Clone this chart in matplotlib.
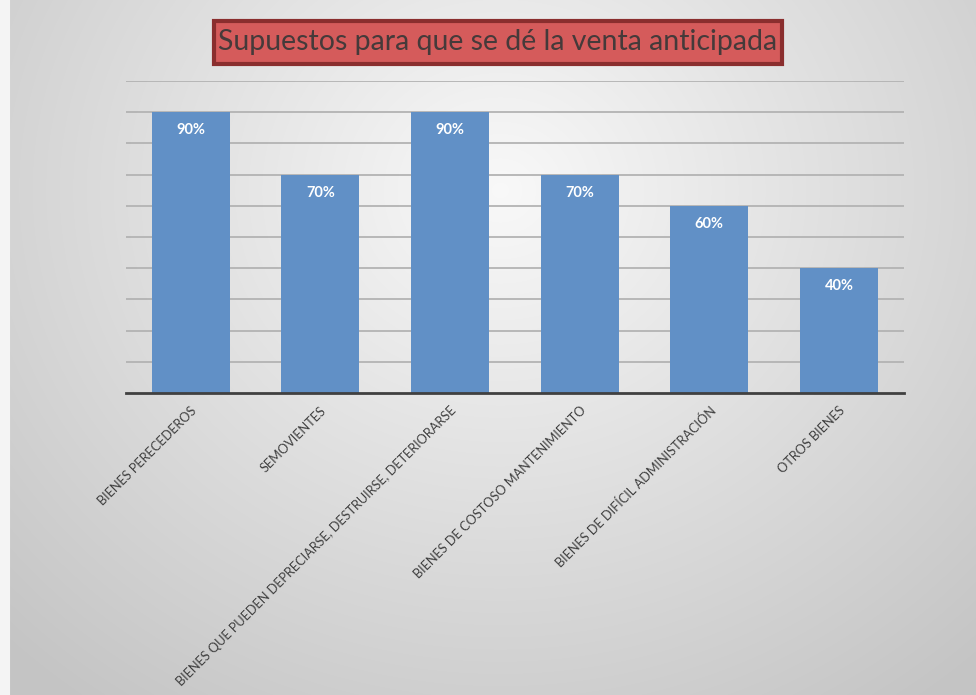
import numpy as np
import matplotlib.pyplot as plt
from matplotlib.patches import FancyBboxPatch

categories = ['BIENES PERECEDEROS', 'SEMOVIENTES',
              'BIENES QUE PUEDEN DEPRECIARSE, DESTRUIRSE, DETERIORARSE',
              'BIENES DE COSTOSO MANTENIMIENTO',
              'BIENES DE DIFÍCIL ADMINISTRACIÓN', 'OTROS BIENES']
values = [0.90, 0.70, 0.90, 0.70, 0.60, 0.40]
value_labels = ['90%', '70%', '90%', '70%', '60%', '40%']
title = 'Supuestos para que se dé la venta anticipada'

plt.rcParams['font.family'] = ['Lato', 'DejaVu Sans']

fig = plt.figure(figsize=(9.76, 6.95), dpi=100)

# radial gradient background
bg = fig.add_axes([0, 0, 1, 1], zorder=-10)
yy, xx = np.mgrid[0:695, 0:976]
r = np.sqrt(((xx - 500) / 620.0) ** 2 + ((yy - 190) / 560.0) ** 2)
shade = np.clip(0.975 - 0.18 * r, 0.77, 0.975)
bg.imshow(np.dstack([shade] * 3), aspect='auto', extent=[0, 1, 0, 1])
bg.axvline(0.004, color='#f4f4f4', lw=8)
bg.set_xlim(0, 1)
bg.set_ylim(0, 1)
bg.axis('off')

ax = fig.add_axes([0.129, 0.4345, 0.797, 0.449])
ax.patch.set_alpha(0)
x = np.arange(len(categories))
ax.bar(x, values, width=0.6, color='#6190c6', zorder=3)
for xi, v, lab in zip(x, values, value_labels):
    ax.text(xi, v - 0.058, lab, ha='center', va='center', color='white',
            fontsize=10.5, fontweight='bold', zorder=4)

ax.set_xlim(-0.5, len(categories) - 0.5)
ax.set_ylim(0, 1.0)
ax.set_yticks(np.arange(0.1, 1.01, 0.1))
ax.yaxis.grid(True, color='#b3b3b3', lw=1.3, zorder=0)
ax.tick_params(axis='y', left=False, labelleft=False)
ax.tick_params(axis='x', length=0, pad=8)
ax.set_xticks(x)
ax.set_xticklabels(categories, rotation=45, ha='right', va='top',
                   rotation_mode='anchor', fontsize=9.2, color='#404040')
for s in ['top', 'right', 'left']:
    ax.spines[s].set_visible(False)
ax.spines['bottom'].set_color('#404040')
ax.spines['bottom'].set_linewidth(2)
ax.spines['bottom'].set_zorder(5)

# title box
box = FancyBboxPatch((214 / 976, 1 - 64 / 695), (782 - 214) / 976, 43 / 695,
                     boxstyle='square,pad=0', transform=fig.transFigure,
                     facecolor='#d55b5b', edgecolor='#8a2e2e', lw=3)
fig.patches.append(box)
fig.text(498 / 976, 1 - 42 / 695, title, ha='center', va='center',
         fontsize=20.5, color='#453a3a')

fig.savefig('out.png', dpi=100)
